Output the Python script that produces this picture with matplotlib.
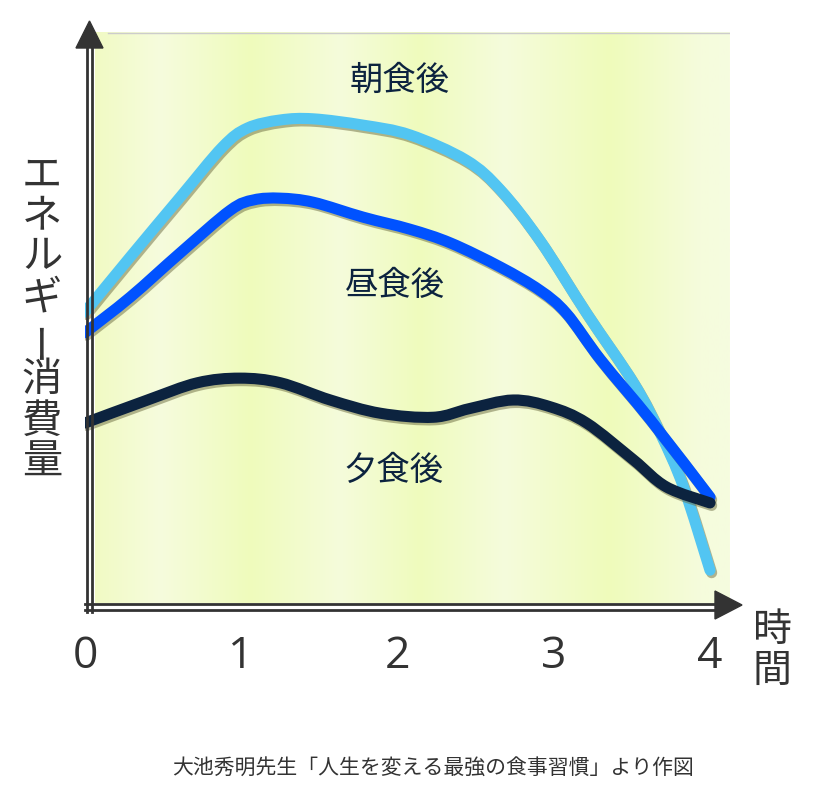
import numpy as np
import matplotlib
matplotlib.use("Agg")
import matplotlib.pyplot as plt
import matplotlib.patheffects as pe
from matplotlib.patches import Polygon, PathPatch
from matplotlib.path import Path
from matplotlib.lines import Line2D

plt.rcParams['font.family'] = ['Noto Sans CJK JP', 'DejaVu Sans']

# values (x = hours after meal, y = relative energy use)
x_breakfast = [0, 0.29, 0.61, 0.88, 1.04, 1.25, 1.46, 1.78, 2.08, 2.44, 2.66, 2.91, 3.21, 3.51, 3.68, 3.83, 4.0]
y_breakfast = [51.3, 60.9, 71.3, 80.0, 83.3, 84.7, 84.9, 83.8, 82.1, 77.7, 72.5, 63.8, 51.1, 39.0, 30.3, 20.9, 6.4]

x_lunch = [0, 0.29, 0.61, 0.93, 1.08, 1.25, 1.46, 1.78, 2.08, 2.34, 2.66, 2.91, 3.08, 3.30, 3.62, 4.0]
y_lunch = [47.7, 53.9, 61.6, 69.0, 70.8, 71.1, 70.4, 67.8, 65.7, 63.3, 59.1, 55.1, 51.1, 43.0, 32.5, 19.1]

x_dinner = [0, 0.40, 0.72, 0.99, 1.25, 1.57, 1.89, 2.23, 2.46, 2.74, 2.98, 3.21, 3.51, 3.72, 4.0]
y_dinner = [32.0, 36.0, 39.0, 39.8, 39.0, 36.0, 33.7, 33.0, 34.5, 36.0, 34.8, 32.0, 25.6, 20.9, 18.1]

labels = ["朝食後", "昼食後", "夕食後"]
xticks = [0, 1, 2, 3, 4]
ylabel = "エネルギー消費量"
xlabel = "時間"
caption = "大池秀明先生「人生を変える最強の食事習慣」より作図"

W, H = 817, 800
fig = plt.figure(figsize=(W / 100, H / 100), dpi=100)
fig.patch.set_facecolor("white")

def fx(px):
    return px / W

def fy(py):
    return 1 - py / H

def smooth_path(xv, yv):
    # bezier path through the points (catmull-rom style handles), drawn by matplotlib
    p = np.column_stack([xv, yv]).astype(float)
    verts = [p[0]]
    codes = [Path.MOVETO]
    n = len(p)
    for i in range(n - 1):
        p0 = p[i - 1] if i > 0 else p[i]
        p3 = p[i + 2] if i + 2 < n else p[i + 1]
        c1 = p[i] + (p[i + 1] - p0) / 6
        c2 = p[i + 1] - (p3 - p[i]) / 6
        verts += [c1, c2, p[i + 1]]
        codes += [Path.CURVE4] * 3
    return Path(verts, codes)

ax = fig.add_axes([fx(85), fy(607), (730 - 85) / W, (607 - 32) / H])
xmax = (730 - 85) / 156.25
ax.set_xlim(0, xmax)
ax.set_ylim(0, 100)
for s in ax.spines.values():
    s.set_visible(False)
ax.set_yticks([])

# background panel with soft vertical bands
stops_px = [95, 160, 250, 340, 420, 505, 610, 700, 730]
stops_c = ["#f1fac4", "#f6fcdd", "#effbbc", "#f5fcdb", "#effbbd", "#f5fcdc", "#effbbb", "#f5fcdc", "#f6fcdf"]
cols = np.array([matplotlib.colors.to_rgb(c) for c in stops_c])
xs = np.linspace(95, 730, 400)
grad = np.stack([np.interp(xs, stops_px, cols[:, i]) for i in range(3)], axis=-1)[None, :, :]
ax.imshow(grad, extent=[(95 - 85) / 156.25, xmax, 0.7, 100], aspect="auto", zorder=0)
ax.plot([(108 - 85) / 156.25, xmax], [99.8, 99.8], color="#cccccc", lw=1, zorder=1)

shadow = [pe.SimpleLineShadow(offset=(1.2, -1.8), shadow_color="#6b6b40", alpha=0.5), pe.Normal()]
series = [(x_breakfast, y_breakfast, "#52c5f2"),
          (x_lunch, y_lunch, "#0052ff"),
          (x_dinner, y_dinner, "#0c233f")]
for z, (xv, yv, c) in enumerate(series):
    patch = PathPatch(smooth_path(xv, yv), facecolor="none", edgecolor=c, lw=8,
                      capstyle="round", joinstyle="round", path_effects=shadow, zorder=3 + z)
    ax.add_patch(patch)

# curve labels
for lab, (px, py) in zip(labels, [(400, 80), (395, 285), (393, 470)]):
    ax.text((px - 85) / 156.25, (607 - py) / 5.75, lab, fontsize=24, color="#0c233f",
            ha="center", va="center", zorder=6)

ax.set_xticks(xticks)
ax.set_xticklabels([str(t) for t in xticks], fontsize=32, color="#333333", family="Open Sans")
ax.tick_params(axis="x", length=0, pad=20)

# double-line axes with arrow heads (figure pixel space)
ax_col = "#333333"
for px in (87, 92):
    fig.add_artist(Line2D([fx(px), fx(px)], [fy(612), fy(46)], color=ax_col, lw=2.0))
for py in (604, 610):
    fig.add_artist(Line2D([fx(85), fx(716)], [fy(py), fy(py)], color=ax_col, lw=2.0))
fig.add_artist(Polygon([(fx(76), fy(48)), (fx(103), fy(48)), (fx(89.5), fy(21))],
                       closed=True, color=ax_col, transform=fig.transFigure))
fig.add_artist(Polygon([(fx(715), fy(591)), (fx(715), fy(619)), (fx(742), fy(605))],
                       closed=True, color=ax_col, transform=fig.transFigure))

# vertical y label, one character per line (long vowel mark turned upright)
for i, ch in enumerate(ylabel):
    rot = 90 if ch == "ー" else 0
    fig.text(fx(42), fy(175 + i * 41), ch, fontsize=29, color="#333333",
             ha="center", va="center", rotation=rot, rotation_mode="anchor")

for i, ch in enumerate(xlabel):
    fig.text(fx(772), fy(630 + i * 41), ch, fontsize=28, color="#333333", ha="center", va="center")

fig.text(fx(433), fy(768), caption, fontsize=15, color="#333333", ha="center", va="center")

fig.savefig("out.png", dpi=100, facecolor="white")
